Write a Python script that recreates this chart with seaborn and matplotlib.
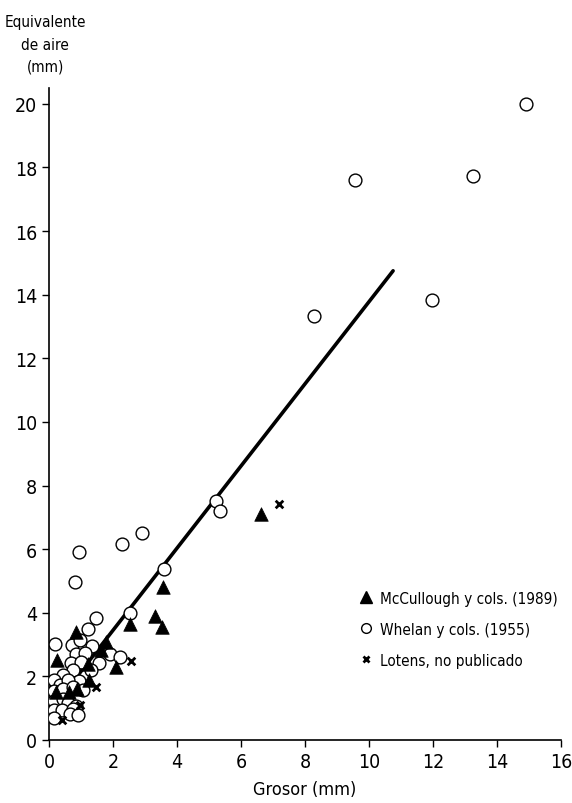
import matplotlib
matplotlib.use("Agg")
import matplotlib.pyplot as plt
from matplotlib import font_manager
from matplotlib.lines import Line2D
import pandas as pd
import seaborn as sns

# McCullough y cols. (1989) — triángulos
mcc_x = [0.85, 3.56, 3.32, 3.54, 2.52, 1.77, 1.62, 0.24, 2.10, 1.21, 1.26, 0.21, 0.62, 0.87, 6.62]
mcc_y = [3.40, 4.80, 3.90, 3.56, 3.65, 3.08, 2.84, 2.50, 2.30, 2.38, 1.90, 1.50, 1.50, 1.60, 7.10]

# Whelan y cols. (1955) — círculos
whe_x = [0.19, 0.72, 0.97, 1.34, 1.21, 1.48, 0.93, 0.82, 2.27, 2.90, 2.53,
         0.85, 1.12, 1.90, 2.23, 0.70, 1.01, 1.55, 1.32, 0.74, 0.45, 0.15,
         0.35, 0.93, 0.60, 1.07, 0.15, 0.45, 0.75, 0.15, 0.45, 0.60, 0.85,
         0.15, 0.42, 0.75, 0.15, 0.64, 0.90,
         3.60, 5.22, 5.33, 8.29, 9.56, 13.24, 11.95, 14.90]
whe_y = [3.02, 3.00, 3.15, 2.96, 3.50, 3.85, 5.90, 4.97, 6.15, 6.52, 4.00,
         2.70, 2.72, 2.70, 2.60, 2.42, 2.45, 2.42, 2.20, 2.20, 2.05, 1.88,
         1.72, 1.85, 1.90, 1.58, 1.55, 1.60, 1.65, 1.22, 1.30, 1.15, 1.08,
         0.95, 0.93, 0.98, 0.68, 0.82, 0.77,
         5.37, 7.52, 7.20, 13.32, 17.60, 17.72, 13.84, 19.98]

# Lotens, no publicado — cruces
lot_x = [2.57, 1.46, 0.98, 0.41, 7.19]
lot_y = [2.47, 1.65, 1.10, 0.64, 7.42]

# recta de regresión (extremos)
line_x = [0.80, 10.75]
line_y = [1.90, 14.75]

x_ticks = list(range(0, 17, 2))
y_ticks = list(range(0, 21, 2))

sns.set_style("ticks")

# fuente estrecha si existe alguna instalada
narrow = [f.name for f in font_manager.fontManager.ttflist
          if ("Condensed" in f.fname or "Narrow" in f.fname or f.stretch in ("condensed", "semi-condensed"))]
plt.rcParams["font.family"] = (narrow[:1] or []) + ["DejaVu Sans"]
plt.rcParams["font.stretch"] = "condensed"
plt.rcParams["text.color"] = "black"
fs = 12 if narrow else 11

fig = plt.figure(figsize=(5.72, 8.04), dpi=100)
ax = fig.add_axes([0.0857, 0.0784, 0.8953, 0.811])

df_line = pd.DataFrame({"x": line_x, "y": line_y})
sns.lineplot(data=df_line, x="x", y="y", color="black", linewidth=2.6, ax=ax, zorder=2)

sns.scatterplot(x=whe_x, y=whe_y, marker="o", s=85, facecolor="white",
                edgecolor="black", linewidth=1.0, ax=ax, zorder=3)
sns.scatterplot(x=mcc_x, y=mcc_y, marker="^", s=95, color="black",
                edgecolor="black", linewidth=0.5, ax=ax, zorder=4)
sns.scatterplot(x=lot_x, y=lot_y, marker="x", s=30, color="black",
                linewidth=2.0, ax=ax, zorder=5)

ax.set_xlim(0, 16)
ax.set_ylim(0, 20.5)
ax.set_xticks(x_ticks)
ax.set_yticks(y_ticks)
ax.tick_params(direction="out", length=5, width=1, labelsize=fs + 2,
               colors="black", labelcolor="black")
sns.despine(ax=ax)
for sp in ("left", "bottom"):
    ax.spines[sp].set_linewidth(1.2)
    ax.spines[sp].set_color("black")

ax.set_xlabel("Grosor (mm)", fontsize=fs + 1, labelpad=7, color="black")
ax.set_ylabel("")
fig.text(0.079, 0.944, "Equivalente\nde aire\n(mm)", ha="center", va="center",
         fontsize=fs - 1, linespacing=1.6)

handles = [
    Line2D([], [], marker="^", color="black", linestyle="", markersize=8),
    Line2D([], [], marker="o", markerfacecolor="white", markeredgecolor="black",
           linestyle="", markersize=7),
    Line2D([], [], marker="x", color="black", linestyle="", markersize=5,
           markeredgewidth=2),
]
labels = ["McCullough y cols. (1989)", "Whelan y cols. (1955)", "Lotens, no publicado"]
ax.legend(handles, labels, loc="upper left", bbox_to_anchor=(0.607, 0.229),
          frameon=False, fontsize=fs - 1, handlelength=0.8, handletextpad=0.5,
          labelspacing=1.05, borderaxespad=0, borderpad=0)

fig.savefig("out.png", dpi=100)
